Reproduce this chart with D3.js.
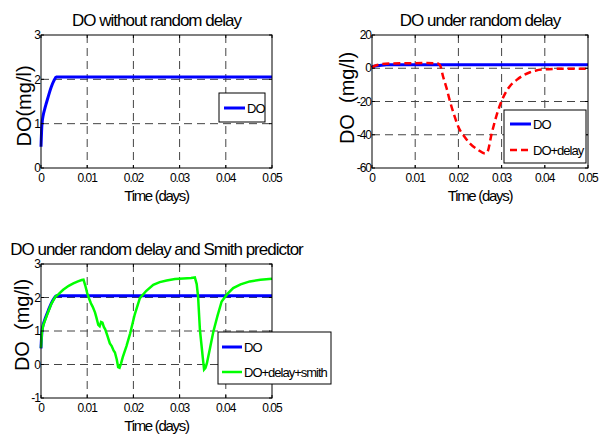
<!DOCTYPE html>
<html>
<head>
<meta charset="utf-8">
<script src="https://cdn.jsdelivr.net/npm/d3@7"></script>
<style>
  body { margin: 0; background: #fff; }
  text { font-family: "Liberation Sans", Arial, sans-serif; fill: #000; }
</style>
</head>
<body>
<svg id="fig" width="613" height="437"></svg>
<script>
// ---- data ----
const timeTicks = [0, 0.01, 0.02, 0.03, 0.04, 0.05];
const timeTickLabels = ['0', '0.01', '0.02', '0.03', '0.04', '0.05'];

// DO without delay (same reference curve in all panels)
const doTime  = [0, 0.0002, 0.0005, 0.0008, 0.00115, 0.0016, 0.0022, 0.0028, 0.0033, 0.05];
const doValue = [0.48, 0.98, 1.2, 1.33, 1.46, 1.62, 1.82, 1.97, 2.05, 2.05];

// DO + random delay
const delayTime  = [0, 0.001, 0.002, 0.004, 0.008, 0.012, 0.015, 0.0157, 0.0165, 0.0173, 0.018, 0.019, 0.02,
                    0.0215, 0.0227, 0.0245, 0.0262, 0.0267, 0.0277, 0.0292, 0.0308, 0.032, 0.0335, 0.035,
                    0.0366, 0.038, 0.0397, 0.042, 0.045, 0.05];
const delayValue = [0.5, 1.8, 2.4, 2.8, 3.0, 3.1, 3.0, 2.0, -5.4, -12.3, -19.4, -28, -35.3,
                    -41.5, -45.3, -49, -51.3, -50.5, -39.3, -25.3, -15.3, -10.5, -7.0, -4.3,
                    -2.4, -1.3, -0.7, -0.4, -0.3, -0.3];

// DO + delay + Smith predictor
const smithTime  = [0, 0.0002, 0.0005, 0.0012, 0.0022, 0.0031, 0.0038, 0.0048, 0.006, 0.007, 0.008, 0.0088, 0.0092,
                    0.0096, 0.01, 0.0104, 0.0108, 0.0112, 0.0117, 0.012, 0.0124, 0.0127, 0.013, 0.0133,
                    0.0136, 0.0139, 0.0144, 0.0149, 0.0153, 0.0157, 0.016, 0.0164, 0.0167, 0.017, 0.0173,
                    0.0177, 0.0185, 0.0193, 0.0203, 0.0214, 0.0228, 0.0243, 0.0257, 0.0272, 0.029, 0.0308,
                    0.0325, 0.0333, 0.0337, 0.034, 0.0344, 0.0348, 0.035, 0.0353, 0.0356, 0.0359, 0.0366,
                    0.0373, 0.0382, 0.0391, 0.0403, 0.0416, 0.0432, 0.0452, 0.0475, 0.05];
const smithValue = [0.5, 0.97, 1.18, 1.44, 1.8, 2.02, 2.1, 2.23, 2.35, 2.42, 2.48, 2.52, 2.53,
                    2.35, 2.13, 1.97, 1.83, 1.72, 1.55, 1.4, 1.18, 1.14, 1.27, 1.25,
                    1.12, 1.05, 0.85, 0.63, 0.55, 0.42, 0.36, 0.15, -0.08, -0.1, 0.02,
                    0.22, 0.55, 0.93, 1.5, 1.98, 2.2, 2.38, 2.46, 2.51, 2.55, 2.57,
                    2.58, 2.6, 2.4, 2.03, 1.03, 0.5, 0.23, -0.15, -0.1, 0.03, 0.5,
                    0.98, 1.45, 1.88, 2.1, 2.28, 2.39, 2.48, 2.53, 2.56];

const titles = ['DO without random delay', 'DO under random delay', 'DO under random delay and Smith predictor'];
const yTicks1 = [0, 1, 2, 3];
const yTicks2 = [-60, -40, -20, 0, 20];
const yTicks3 = [-1, 0, 1, 2, 3];

// ---- series styles ----
const series = {
  do:    { t: doTime,    v: doValue,    name: 'DO',              color: '#0000ff', width: 3,   dash: null,  curve: d3.curveMonotoneX },
  delay: { t: delayTime, v: delayValue, name: 'DO+delay',        color: '#ff0000', width: 2.5, dash: '7,4', curve: d3.curveMonotoneX },
  smith: { t: smithTime, v: smithValue, name: 'DO+delay+smith',  color: '#00ff00', width: 2.5, dash: null,  curve: d3.curveLinear }
};

// ---- layout ----
const panels = [
  { box: [41, 35, 272, 168], yDomain: [0, 3], yTicks: yTicks1, title: titles[0],
    ylabel: 'DO(mg/l)', ylabelPos: [31, 106], lines: ['do'],
    legend: { box: [219, 93, 265, 122], rows: [108], x0: 224, x1: 245 } },
  { box: [372, 35, 588, 168], yDomain: [-60, 20], yTicks: yTicks2, title: titles[1],
    ylabel: 'DO  (mg/l)', ylabelPos: [353.5, 98], lines: ['do', 'delay'],
    legend: { box: [504, 110, 586, 163], rows: [124, 150], x0: 510, x1: 531 } },
  { box: [41, 264, 272, 398], yDomain: [-1, 3], yTicks: yTicks3, title: titles[2],
    ylabel: 'DO  (mg/l)', ylabelPos: [28.5, 325], lines: ['do', 'smith'],
    legend: { box: [218, 332, 331, 384], rows: [347, 372], x0: 222, x1: 242 } }
];

const svg = d3.select('#fig');

panels.forEach(p => {
  const [L, T, R, B] = p.box;
  const x = d3.scaleLinear().domain([0, 0.05]).range([L, R]);
  const y = d3.scaleLinear().domain(p.yDomain).range([B, T]);
  const g = svg.append('g');

  // grid (dashed)
  g.selectAll('.vgrid')
    .data(timeTicks.filter(t => t > 0 && t < 0.05))
    .enter().append('line')
    .attr('x1', d => x(d)).attr('x2', d => x(d))
    .attr('y1', T).attr('y2', B)
    .attr('stroke', '#444').attr('stroke-width', 1).attr('stroke-dasharray', '8,5');
  g.selectAll('.hgrid')
    .data(p.yTicks.filter(v => v > p.yDomain[0] && v < p.yDomain[1]))
    .enter().append('line')
    .attr('x1', L).attr('x2', R)
    .attr('y1', d => y(d)).attr('y2', d => y(d))
    .attr('stroke', '#444').attr('stroke-width', 1).attr('stroke-dasharray', '8,5');

  // data lines
  p.lines.forEach(k => {
    const s = series[k];
    const pts = s.t.map((t, i) => [t, s.v[i]]);
    g.append('path')
      .datum(pts)
      .attr('fill', 'none')
      .attr('stroke', s.color)
      .attr('stroke-width', s.width)
      .attr('stroke-dasharray', s.dash)
      .attr('d', d3.line().x(d => x(d[0])).y(d => y(d[1])).curve(s.curve));
  });

  // axes box and inner ticks
  g.append('rect')
    .attr('x', L).attr('y', T).attr('width', R - L).attr('height', B - T)
    .attr('fill', 'none').attr('stroke', '#000').attr('stroke-width', 1);
  timeTicks.forEach(t => {
    g.append('line').attr('x1', x(t)).attr('x2', x(t)).attr('y1', B).attr('y2', B - 3).attr('stroke', '#000');
    g.append('line').attr('x1', x(t)).attr('x2', x(t)).attr('y1', T).attr('y2', T + 3).attr('stroke', '#000');
  });
  p.yTicks.forEach(v => {
    g.append('line').attr('x1', L).attr('x2', L + 3).attr('y1', y(v)).attr('y2', y(v)).attr('stroke', '#000');
    g.append('line').attr('x1', R).attr('x2', R - 3).attr('y1', y(v)).attr('y2', y(v)).attr('stroke', '#000');
  });

  // tick labels
  g.selectAll('.xt')
    .data(timeTicks)
    .enter().append('text')
    .attr('x', d => x(d)).attr('y', B + 14)
    .attr('text-anchor', 'middle')
    .style('font-size', '12px').style('letter-spacing', '-1px')
    .text((d, i) => timeTickLabels[i]);
  g.selectAll('.yt')
    .data(p.yTicks)
    .enter().append('text')
    .attr('x', L - 1).attr('y', d => y(d)).attr('dy', '0.35em')
    .attr('text-anchor', 'end')
    .style('font-size', '12px').style('letter-spacing', '-1px')
    .text(d => d);

  // title and axis labels
  g.append('text')
    .attr('x', (L + R) / 2).attr('y', T - 9)
    .attr('text-anchor', 'middle')
    .style('font-size', '17px').style('letter-spacing', '-1px')
    .text(p.title);
  g.append('text')
    .attr('x', (L + R) / 2).attr('y', B + 33)
    .attr('text-anchor', 'middle')
    .style('font-size', '15px').style('letter-spacing', '-1.3px')
    .text('Time (days)');
  g.append('text')
    .attr('transform', `translate(${p.ylabelPos[0]},${p.ylabelPos[1]}) rotate(-90)`)
    .attr('text-anchor', 'middle')
    .style('font-size', '20px').style('white-space', 'pre')
    .text(p.ylabel);

  // legend
  const lg = p.legend;
  g.append('rect')
    .attr('x', lg.box[0]).attr('y', lg.box[1])
    .attr('width', lg.box[2] - lg.box[0]).attr('height', lg.box[3] - lg.box[1])
    .attr('fill', '#fff').attr('stroke', '#000').attr('stroke-width', 1);
  p.lines.forEach((k, i) => {
    const s = series[k];
    const ly = lg.rows[i];
    g.append('line')
      .attr('x1', lg.x0).attr('x2', lg.x1).attr('y1', ly).attr('y2', ly)
      .attr('stroke', s.color).attr('stroke-width', s.width)
      .attr('stroke-dasharray', s.dash);
    g.append('text')
      .attr('x', lg.x1 + 2).attr('y', ly).attr('dy', '0.35em')
      .style('font-size', '13px').style('letter-spacing', '-1px')
      .text(s.name);
  });
});
</script>
</body>
</html>
